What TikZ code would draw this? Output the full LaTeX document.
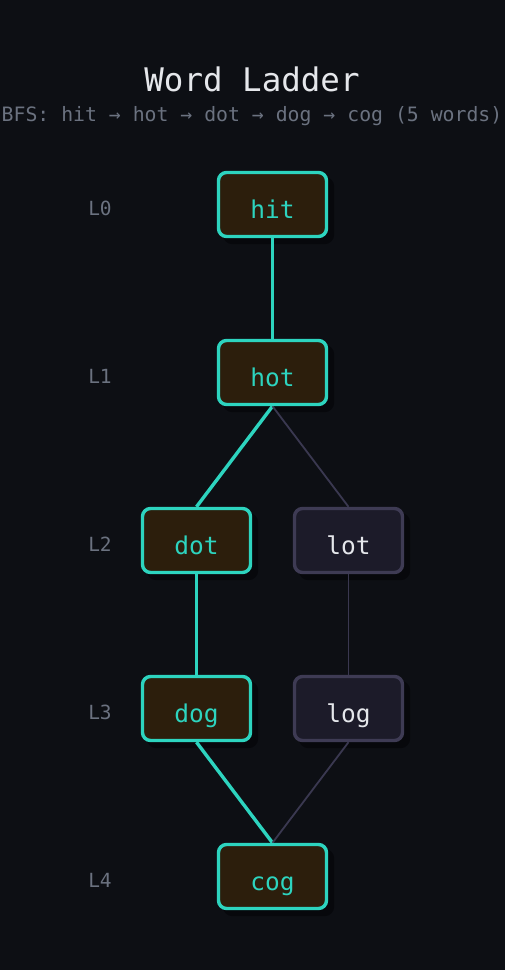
\documentclass[tikz,border=0pt]{standalone}
\usepackage{fontspec}
\setmonofont{DejaVu Sans Mono}
\definecolor{bg}{HTML}{0D0F14}
\definecolor{teal}{HTML}{2DD4BF}
\definecolor{hlfill}{HTML}{2C1E0C}
\definecolor{gfill}{HTML}{1C1B29}
\definecolor{gborder}{HTML}{3E3B54}
\definecolor{gedge}{HTML}{3A3850}
\definecolor{shadowc}{HTML}{07080C}
\definecolor{lblgray}{HTML}{6B7280}
\definecolor{titlec}{HTML}{E5E7EB}
\tikzset{
  boxbase/.style={rounded corners=8pt, minimum width=108pt, minimum height=64pt, line width=3.4pt, inner sep=0pt},
  hlbox/.style={boxbase, draw=teal, fill=hlfill},
  gbox/.style={boxbase, draw=gborder, fill=gfill},
  shadowbox/.style={boxbase, fill=shadowc, draw=shadowc},
  hltext/.style={anchor=base, inner sep=0pt, text=teal, font=\ttfamily\fontsize{24.5}{24.5}\selectfont},
  gtext/.style={anchor=base, inner sep=0pt, text=titlec, font=\ttfamily\fontsize{24.5}{24.5}\selectfont},
  lvl/.style={anchor=base, inner sep=0pt, text=lblgray, font=\ttfamily\fontsize{19.5}{19.5}\selectfont},
  hledge/.style={draw=teal, line width=3.4pt},
  gedgeline/.style={draw=gedge, line width=1.8pt},
}
\begin{document}
\begin{tikzpicture}[x=1pt,y=-1pt]
\useasboundingbox (0,0) rectangle (504,970);
\fill[bg] (-4,-4) rectangle (508,974);
% title
\node[anchor=base, inner sep=0pt, text=titlec, font=\ttfamily\fontsize{32.5}{32.5}\selectfont] (title) at (252,91) {Word Ladder};
\node[anchor=base, inner sep=0pt, text=lblgray, font=\ttfamily\fontsize{19.8}{19.8}\selectfont] (subtitle) at (252,121) {BFS: hit → hot → dot → dog → cog (5 words)};
% level labels
\node[lvl] (L0) at (100,215) {L0};
\node[lvl] (L1) at (100,383) {L1};
\node[lvl] (L2) at (100,551) {L2};
\node[lvl] (L3) at (100,719) {L3};
\node[lvl] (L4) at (100,887) {L4};
% shadows
\foreach \n/\x/\y in {s1/272.5/204.5, s2/272.5/372.5, s3/196.5/540.5, s4/348.5/540.5, s5/196.5/708.5, s6/348.5/708.5, s7/272.5/876.5}
  \node[shadowbox] (\n) at (\x+6,\y+6) {};
% node positions
\coordinate (phit) at (272.5,204.5);
\coordinate (phot) at (272.5,372.5);
\coordinate (pdot) at (196.5,540.5);
\coordinate (plot) at (348.5,540.5);
\coordinate (pdog) at (196.5,708.5);
\coordinate (plog) at (348.5,708.5);
\coordinate (pcog) at (272.5,876.5);
\path (phit) node[boxbase] (hit) {};
\path (phot) node[boxbase] (hot) {};
\path (pdot) node[boxbase] (dot) {};
\path (plot) node[boxbase] (lot) {};
\path (pdog) node[boxbase] (dog) {};
\path (plog) node[boxbase] (log) {};
\path (pcog) node[boxbase] (cog) {};
% edges
\draw[hledge] (hit.south) -- (hot.north);
\draw[hledge] (hot.south) -- (dot.north);
\draw[gedgeline] (hot.south) -- (lot.north);
\draw[hledge] (dot.south) -- (dog.north);
\draw[gedgeline] (lot.south) -- (log.north);
\draw[hledge] (dog.south) -- (cog.north);
\draw[gedgeline] (log.south) -- (cog.north);
% visible boxes
\node[hlbox] (hitB) at (phit) {};
\node[hlbox] (hotB) at (phot) {};
\node[hlbox] (dotB) at (pdot) {};
\node[gbox] (lotB) at (plot) {};
\node[hlbox] (dogB) at (pdog) {};
\node[gbox] (logB) at (plog) {};
\node[hlbox] (cogB) at (pcog) {};
% texts
\node[hltext] (hitT) at ([yshift=-13.5pt]hit.center) {hit};
\node[hltext] (hotT) at ([yshift=-13.5pt]hot.center) {hot};
\node[hltext] (dotT) at ([yshift=-13.5pt]dot.center) {dot};
\node[gtext] (lotT) at ([yshift=-13.5pt]lot.center) {lot};
\node[hltext] (dogT) at ([yshift=-13.5pt]dog.center) {dog};
\node[gtext] (logT) at ([yshift=-13.5pt]log.center) {log};
\node[hltext] (cogT) at ([yshift=-13.5pt]cog.center) {cog};
\end{tikzpicture}
\end{document}
